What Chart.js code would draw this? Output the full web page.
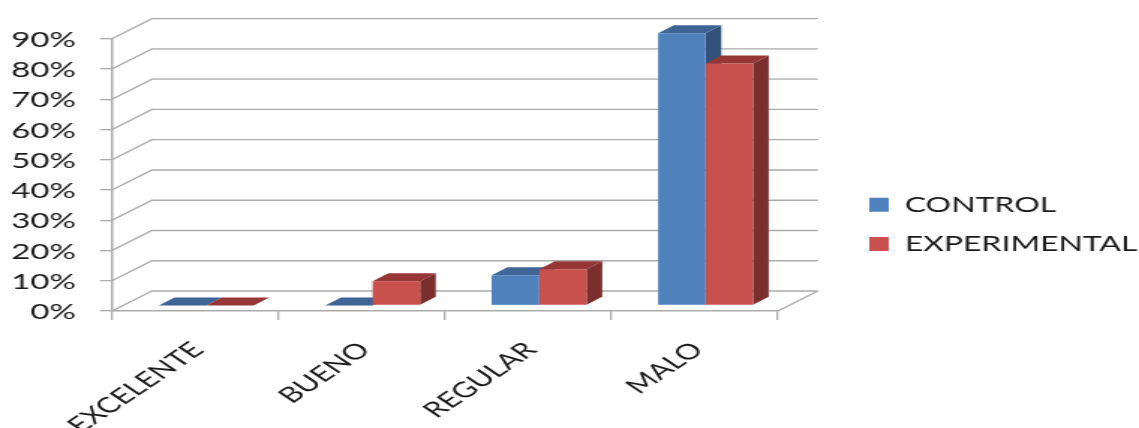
<!DOCTYPE html>
<html lang="es">
<head>
<meta charset="UTF-8">
<title>Control vs Experimental</title>
<script src="https://cdn.jsdelivr.net/npm/chart.js"></script>
<style>
  html, body { margin: 0; padding: 0; background: #fff; overflow: hidden; }
  /* the reference is a horizontally stretched picture, so the canvas is too */
  #chart { display: block; transform-origin: 0 0; transform: scaleX(1.4987); }
</style>
</head>
<body>
<canvas id="chart" width="760" height="428"></canvas>
<script>
const categories = ['EXCELENTE', 'BUENO', 'REGULAR', 'MALO'];
const controlValues = [0, 0, 10, 90];
const experimentalValues = [0, 8, 12, 80];
const yTicks = [0, 10, 20, 30, 40, 50, 60, 70, 80, 90];

const GRID = '#ababab';
const WALL_X = 26.7, WALL_Y = 20;   // depth of the back wall
const BAR_X = 7.3, BAR_Y = 5.5;     // bars stand a little behind the front edge
const SIDE_X = 10.5, SIDE_Y = 8;    // depth of a bar

function poly(ctx, pts, color) {
  ctx.fillStyle = color;
  ctx.beginPath();
  pts.forEach((p, i) => i ? ctx.lineTo(p[0], p[1]) : ctx.moveTo(p[0], p[1]));
  ctx.closePath();
  ctx.fill();
}

const fake3d = {
  id: 'fake3d',
  afterLayout(chart) {
    // put the legend where the reference has it
    const lg = chart.legend, dx = 562 - lg.left, dy = -9;
    lg.left += dx; lg.right += dx; lg.top += dy; lg.bottom += dy;
  },
  beforeDatasetsDraw(chart) {
    const ctx = chart.ctx, y = chart.scales.y, a = chart.chartArea;
    ctx.save();
    // walls
    ctx.strokeStyle = GRID;
    ctx.lineWidth = 1.3;
    yTicks.forEach(v => {
      const py = y.getPixelForValue(v);
      ctx.beginPath();
      ctx.moveTo(a.left, py);
      ctx.lineTo(a.left + WALL_X, py - WALL_Y);
      ctx.lineTo(a.right + WALL_X, py - WALL_Y);
      ctx.stroke();
    });
    const py0 = y.getPixelForValue(0);
    ctx.beginPath();
    ctx.moveTo(a.right, py0);
    ctx.lineTo(a.right + WALL_X, py0 - WALL_Y);
    ctx.stroke();
    // bar tops and sides, blue first so red covers it
    chart.data.datasets.forEach((ds, i) => {
      chart.getDatasetMeta(i).data.forEach(bar => {
        const r = bar.x + bar.width / 2 + BAR_X, l = bar.x - bar.width / 2 + BAR_X;
        const t = bar.y - BAR_Y, b = bar.base - BAR_Y;
        poly(ctx, [[l, t], [r, t], [r + SIDE_X, t - SIDE_Y], [l + SIDE_X, t - SIDE_Y]], ds.topColor);
        if (t < b) poly(ctx, [[r, t], [r + SIDE_X, t - SIDE_Y], [r + SIDE_X, b - SIDE_Y], [r, b]], ds.sideColor);
      });
    });
    // the library draws the fronts, moved back with the rest of the bar
    ctx.translate(BAR_X, -BAR_Y);
  },
  afterDatasetsDraw(chart) {
    chart.ctx.restore();
  }
};

new Chart(document.getElementById('chart').getContext('2d'), {
  type: 'bar',
  data: {
    labels: categories,
    datasets: [
      { label: 'CONTROL', data: controlValues, backgroundColor: '#4F81BD', topColor: '#3E6596', sideColor: '#32527C', clip: false },
      { label: 'EXPERIMENTAL', data: experimentalValues, backgroundColor: '#C8504D', topColor: '#963735', sideColor: '#7A2F2D', clip: false }
    ]
  },
  plugins: [fake3d],
  options: {
    responsive: false,
    animation: false,
    devicePixelRatio: 1,
    layout: { padding: { top: 38.7 } },
    datasets: { bar: { categoryPercentage: 0.57, barPercentage: 1 } },
    scales: {
      x: {
        grid: { drawOnChartArea: false, color: GRID, tickLength: 9, lineWidth: 1.3 },
        border: { color: GRID, width: 1.5 },
        ticks: {
          minRotation: 45, maxRotation: 45, color: '#1a1a1a', padding: 17, labelOffset: 2,
          font: { family: 'Lato', size: 21.5 }
        },
        afterFit: s => { s.height = 117; }
      },
      y: {
        min: 0, max: 90,
        grid: { drawOnChartArea: false, color: GRID, tickLength: 8, lineWidth: 1.3 },
        border: { color: GRID, width: 1.5 },
        ticks: {
          stepSize: 10, color: '#1a1a1a', padding: 16, labelOffset: 1,
          font: { family: 'Lato', size: 22 },
          callback: v => v + '%'
        },
        afterFit: s => { s.width = 74.7; }
      },
      // keeps room for the back wall between plot and legend
      gap: {
        axis: 'y', position: 'right', display: true,
        ticks: { display: false }, grid: { display: false }, border: { display: false },
        afterFit: s => { s.width = 241 - s.chart.legend.width; }
      }
    },
    plugins: {
      tooltip: { enabled: false },
      legend: {
        position: 'right',
        maxWidth: 198,
        labels: {
          boxWidth: 13, boxHeight: 14, padding: 18, color: '#1a1a1a',
          font: { family: 'Lato', size: 21.3 }
        }
      }
    }
  }
});
</script>
</body>
</html>
